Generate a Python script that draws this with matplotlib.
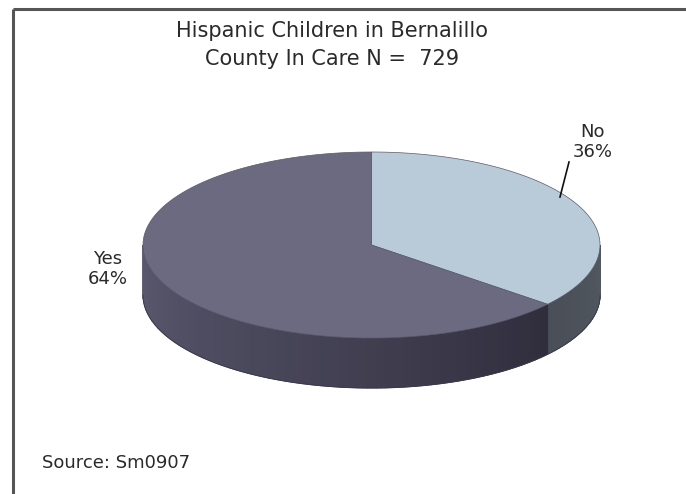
import numpy as np
import matplotlib
matplotlib.use("Agg")
import matplotlib.pyplot as plt
from matplotlib.patches import Polygon
from matplotlib.colors import to_rgb

# ---- data ----
categories = ["No", "Yes"]
percent = [36, 64]
title_lines = ["Hispanic Children in Bernalillo", "County In Care N =  729"]
source_text = "Source: Sm0907"

top_colors = ["#b9cbd8", "#6c6a80"]
side_colors_left = ["#4a4f57", "#5c5a70"]
side_colors_right = ["#525860", "#302e3d"]

plt.rcParams['font.family'] = ['DejaVu Sans']

fig = plt.figure(figsize=(6.86, 4.94), dpi=100)
ax = fig.add_axes([0, 0, 1, 1])
ax.set_xlim(0, 686)
ax.set_ylim(494, 0)
ax.axis('off')

# frame lines (top and left)
ax.plot([13, 686], [9, 9], color="#555555", lw=2.2, solid_capstyle='butt')
ax.plot([13, 13], [9, 494], color="#555555", lw=2.2, solid_capstyle='butt')

cx, cy, a, b, depth = 371.5, 245, 228.5, 93, 50

def pt(t):
    t = np.radians(t)
    return cx + a * np.cos(t), cy - b * np.sin(t)

# angles: start at 90 deg, go clockwise
total = sum(percent)
starts = []
ang = 90.0
for p in percent:
    end = ang - 360.0 * p / total
    starts.append((ang, end))
    ang = end

# side walls (front half: angles between -180 and 0), shaded in strips
for (s, e), cl, cr in zip(starts, side_colors_left, side_colors_right):
    lo, hi = max(e, -180), min(s, 0)
    if hi <= lo:
        continue
    # base fill to avoid seams
    t = np.linspace(lo, hi, 120)
    xs, ys = pt(t)
    base = np.concatenate([np.column_stack([xs, ys]),
                           np.column_stack([xs[::-1], ys[::-1] + depth])])
    n = 60
    edges = np.linspace(lo, hi, n + 1)
    c0, c1 = np.array(to_rgb(cl)), np.array(to_rgb(cr))
    ax.add_patch(Polygon(base, closed=True, facecolor=(c0 + c1) / 2, edgecolor='none', zorder=1.9))
    for i in range(n):
        f = (i + 0.5) / n
        col = c0 * (1 - f) + c1 * f
        tt = np.linspace(edges[i], edges[i + 1], 6)
        xs, ys = pt(tt)
        poly = np.concatenate([np.column_stack([xs, ys]),
                               np.column_stack([xs[::-1], ys[::-1] + depth])])
        ax.add_patch(Polygon(poly, closed=True, facecolor=col, edgecolor=col,
                             lw=0.8, zorder=2))
    xs, ys = pt(t)
    ax.plot(xs, ys + depth, color="#3a3a48", lw=0.6, zorder=2.5)

# top faces
for (s, e), col in zip(starts, top_colors):
    t = np.linspace(s, e, 200)
    xs, ys = pt(t)
    poly = np.vstack([[cx, cy], np.column_stack([xs, ys])])
    ax.add_patch(Polygon(poly, closed=True, facecolor=col, edgecolor="#5a5a6a", lw=0.5, zorder=3))

txt = "#2a2a2a"
# titles
ax.text(332, 31, title_lines[0], ha='center', va='center', fontsize=15, color=txt)
ax.text(332, 59, title_lines[1], ha='center', va='center', fontsize=15, color=txt)

# data labels
ax.text(593, 142, f"{categories[0]}\n{percent[0]}%", ha='center', va='center',
        fontsize=13, color=txt, linespacing=1.15)
ax.plot([569, 560], [162, 197], color="#111111", lw=1.2, zorder=4)
ax.text(108, 269, f"{categories[1]}\n{percent[1]}%", ha='center', va='center',
        fontsize=13, color=txt, linespacing=1.15)

ax.text(42, 463, source_text, ha='left', va='center', fontsize=13, color=txt)

fig.savefig("out.png", dpi=100)
